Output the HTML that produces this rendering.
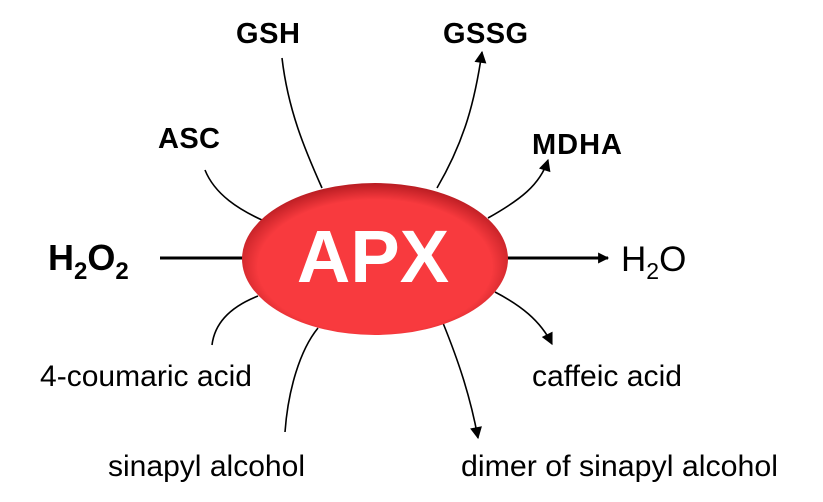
<!DOCTYPE html>
<html><head><meta charset="utf-8"><style>
body{margin:0;background:#fff}
svg{display:block;font-family:"Liberation Sans",Arial,sans-serif}
</style></head><body>
<svg width="823" height="502" viewBox="0 0 823 502" xmlns="http://www.w3.org/2000/svg">
<defs>
<marker id="a" viewBox="0 0 10 10" refX="9" refY="5" markerWidth="14" markerHeight="12" markerUnits="userSpaceOnUse" orient="auto"><path d="M0,0L10,5L0,10z" fill="#000"/></marker>
<marker id="b" viewBox="0 0 10 10" refX="9" refY="5" markerWidth="15" markerHeight="11" markerUnits="userSpaceOnUse" orient="auto"><path d="M0,0L10,5L0,10z" fill="#000"/></marker>
<radialGradient id="g" cx="0.5" cy="0.55" r="0.55">
<stop offset="0.8" stop-color="#f83a3e"/><stop offset="1" stop-color="#b81c22"/></radialGradient>
</defs>
<g fill="none" stroke="#000" stroke-width="1.6">
<path d="M282,58 C288,110 305,150 322,188"/>
<path d="M205,170 C215,195 240,210 262,220"/>
<path d="M437,188 C465,140 475,100 482,52" marker-end="url(#a)"/>
<path d="M488,218 C520,200 540,185 548,160" marker-end="url(#a)"/>
<path d="M212,345 C215,320 235,305 258,296"/>
<path d="M285,432 C288,390 300,350 318,328"/>
<path d="M495,292 C520,305 540,320 552,344" marker-end="url(#a)"/>
<path d="M443,323 C458,360 470,395 478,438" marker-end="url(#a)"/>
</g>
<line x1="160" y1="258" x2="245" y2="258" stroke="#000" stroke-width="3"/>
<line x1="505" y1="258" x2="608" y2="258" stroke="#000" stroke-width="3" marker-end="url(#b)"/>
<ellipse cx="375" cy="259" rx="133" ry="76" fill="url(#g)"/>
<text x="373" y="282" font-size="74" font-weight="bold" fill="#fff" text-anchor="middle">APX</text>
<g font-size="29" font-weight="bold">
<text x="236" y="43" textLength="64">GSH</text>
<text x="443" y="43" textLength="85">GSSG</text>
<text x="158" y="148" textLength="62">ASC</text>
<text x="532" y="154" textLength="90">MDHA</text>
</g>
<text x="48" y="270" font-size="36" font-weight="bold">H<tspan font-size="24" dy="9">2</tspan><tspan dy="-9">O</tspan><tspan font-size="24" dy="9">2</tspan></text>
<text x="621" y="271" font-size="35">H<tspan font-size="23" dy="8">2</tspan><tspan dy="-8">O</tspan></text>
<g font-size="30">
<text x="40" y="386" textLength="212" lengthAdjust="spacingAndGlyphs">4-coumaric acid</text>
<text x="532" y="386" textLength="150" lengthAdjust="spacingAndGlyphs">caffeic acid</text>
<text x="108" y="476" textLength="197" lengthAdjust="spacingAndGlyphs">sinapyl alcohol</text>
<text x="461" y="476" textLength="317" lengthAdjust="spacingAndGlyphs">dimer of sinapyl alcohol</text>
</g>
</svg>
</body></html>
